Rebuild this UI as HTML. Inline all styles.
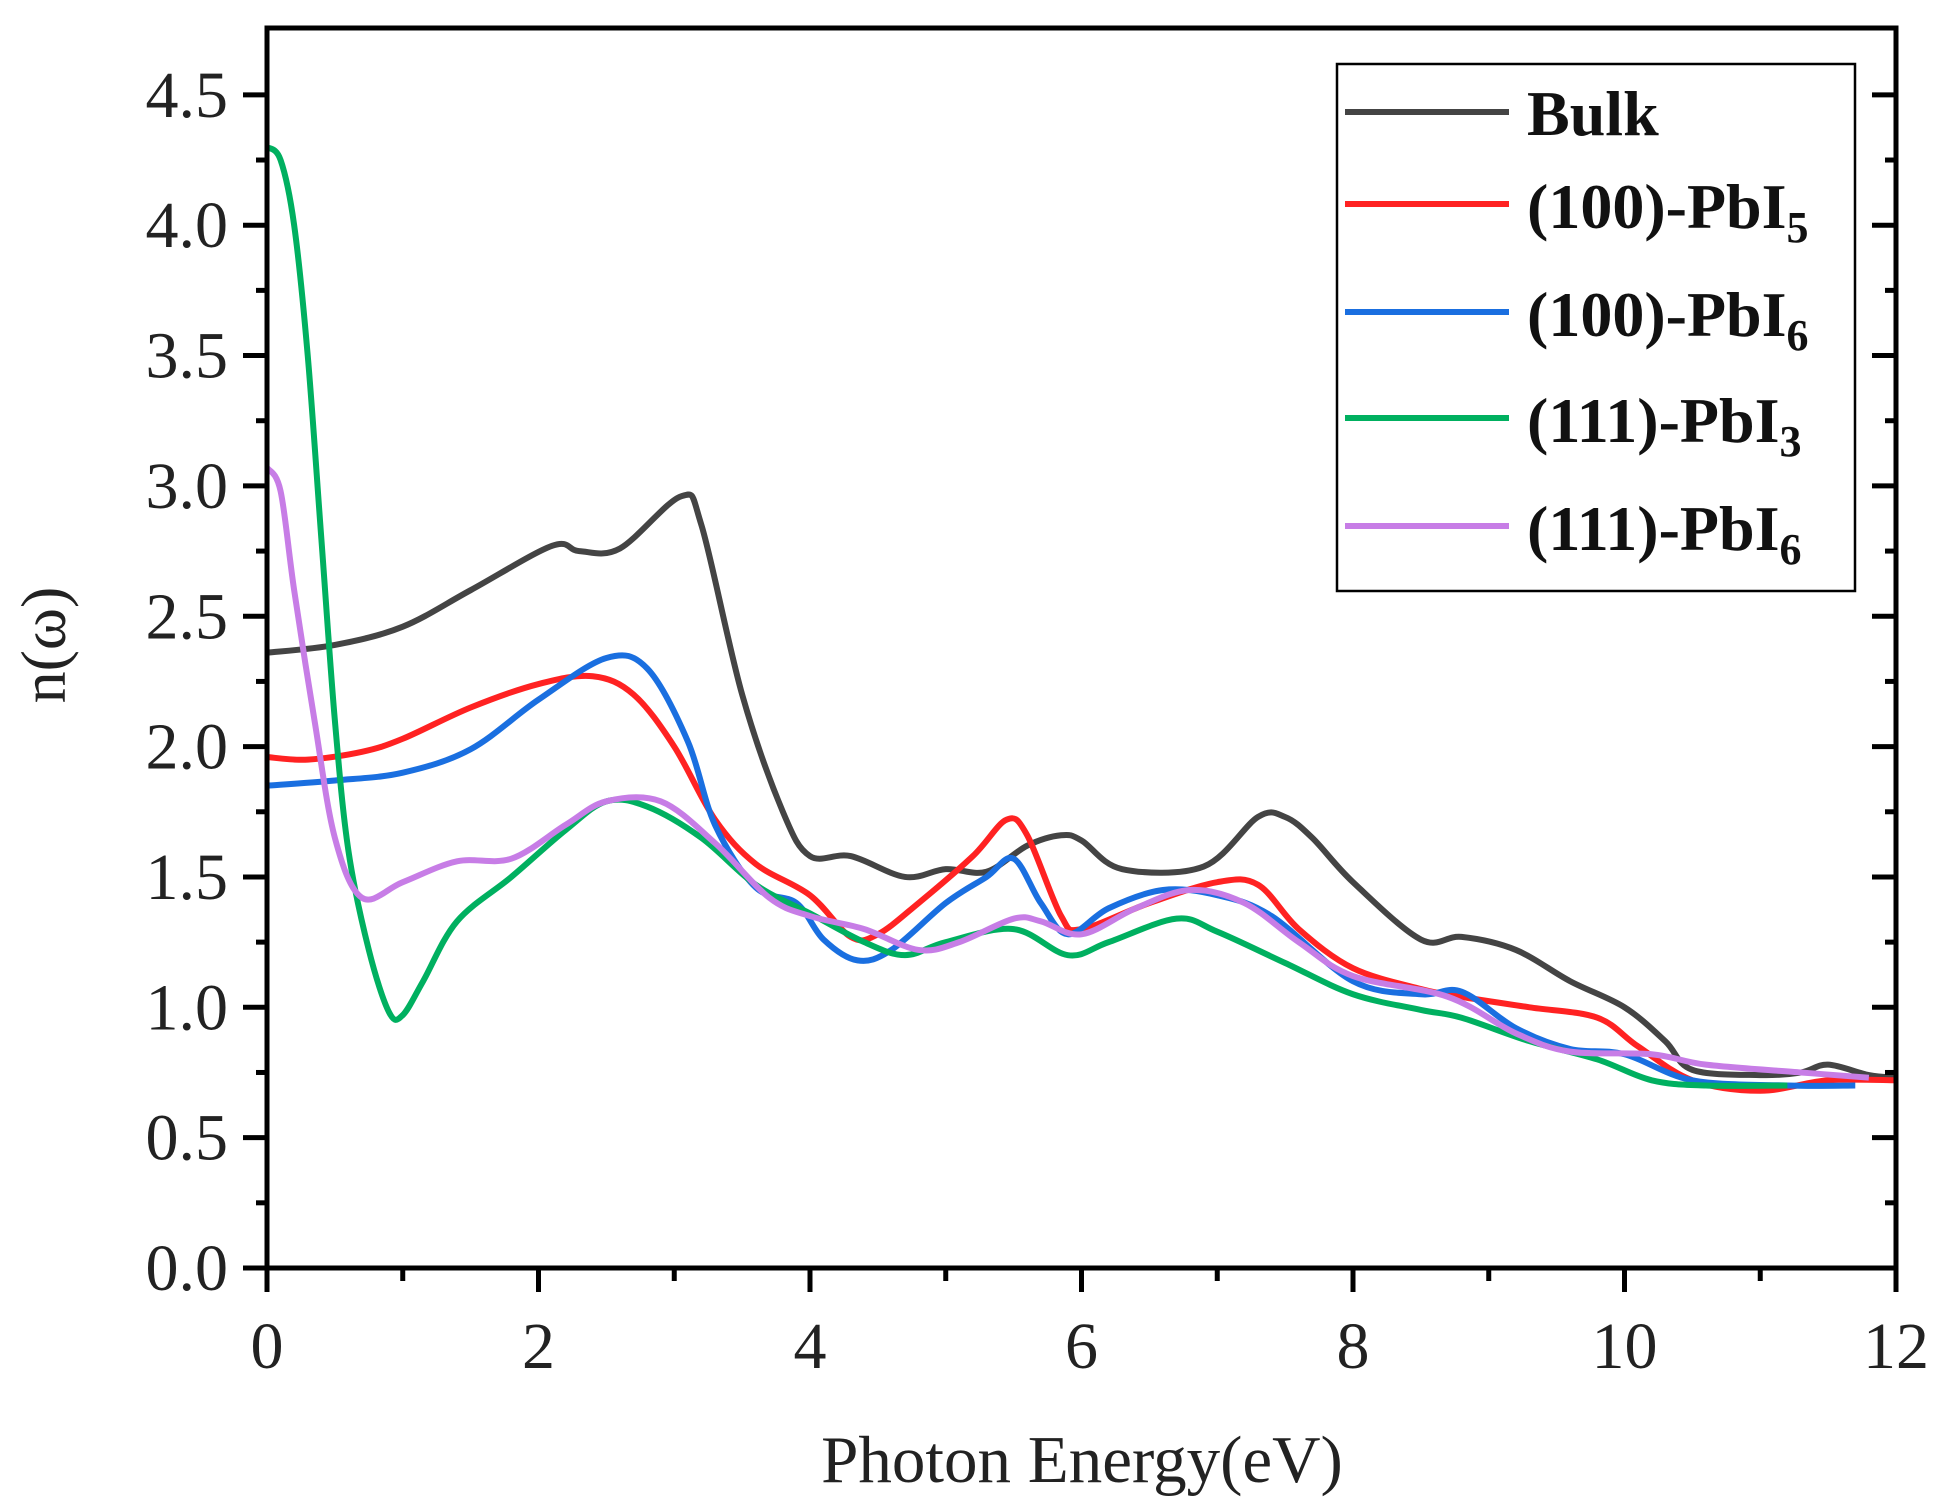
<!DOCTYPE html>
<html><head><meta charset="utf-8"><style>html,body{margin:0;padding:0;background:#fff}</style></head>
<body>
<svg id="s" width="1939" height="1507" xmlns="http://www.w3.org/2000/svg" font-family="Liberation Serif, serif">
<g id="curves" fill="none" stroke-width="6" stroke-linejoin="round"></g>
<g id="axes" stroke="#000" stroke-width="5"></g>
<g id="labels" font-size="66" fill="#222"></g>
<text x="1082" y="1482" font-size="67" text-anchor="middle" fill="#222">Photon Energy(eV)</text>
<text transform="translate(65,645) rotate(-90)" font-size="64" text-anchor="middle" fill="#222">n(ω)</text>
<rect x="1337" y="64" width="518" height="527" fill="#fff" stroke="#000" stroke-width="2.5"/>
<g font-size="64" font-weight="bold" fill="#111">
<line x1="1345" y1="112" x2="1509" y2="112" stroke="#444" stroke-width="6"/><text x="1527" y="135">Bulk</text>
<line x1="1345" y1="204" x2="1509" y2="204" stroke="#f22" stroke-width="6"/><text x="1527" y="228">(100)-PbI<tspan font-size="44" dy="14">5</tspan></text>
<line x1="1345" y1="312" x2="1509" y2="312" stroke="#1a6fe0" stroke-width="6"/><text x="1527" y="336">(100)-PbI<tspan font-size="44" dy="14">6</tspan></text>
<line x1="1345" y1="418" x2="1509" y2="418" stroke="#00b060" stroke-width="6"/><text x="1527" y="442">(111)-PbI<tspan font-size="44" dy="14">3</tspan></text>
<line x1="1345" y1="526" x2="1509" y2="526" stroke="#c77de6" stroke-width="6"/><text x="1527" y="550">(111)-PbI<tspan font-size="44" dy="14">6</tspan></text>
</g>
</svg>
<script>
const X=e=>267+135.75*e, Y=n=>1268-260.7*n;
const data={
"#444":[[0,2.36],[0.5,2.39],[1,2.46],[1.5,2.6],[2.1,2.77],[2.3,2.75],[2.6,2.76],[3.05,2.96],[3.2,2.85],[3.5,2.2],[3.8,1.75],[4.0,1.58],[4.3,1.58],[4.7,1.5],[5.0,1.53],[5.3,1.52],[5.6,1.62],[5.85,1.66],[6.0,1.64],[6.3,1.53],[6.9,1.54],[7.3,1.73],[7.5,1.73],[7.7,1.65],[8.0,1.48],[8.5,1.26],[8.8,1.27],[9.2,1.22],[9.6,1.1],[10.0,1.0],[10.3,0.87],[10.5,0.76],[11,0.74],[11.3,0.75],[11.5,0.78],[11.8,0.74],[12,0.73]],
"#f22":[[0,1.96],[0.3,1.95],[0.7,1.98],[1.0,2.03],[1.5,2.15],[2.0,2.24],[2.4,2.27],[2.7,2.2],[3.0,2.0],[3.3,1.72],[3.6,1.55],[4.0,1.43],[4.3,1.27],[4.5,1.28],[4.8,1.4],[5.2,1.58],[5.45,1.72],[5.6,1.66],[5.85,1.35],[6.0,1.3],[6.5,1.4],[7.0,1.48],[7.3,1.47],[7.6,1.3],[8.0,1.15],[8.5,1.07],[8.8,1.04],[9.3,1.0],[9.8,0.96],[10.1,0.85],[10.5,0.72],[11,0.68],[11.5,0.72],[12,0.72]],
"#1a6fe0":[[0,1.85],[0.5,1.87],[1,1.9],[1.5,1.99],[2.0,2.18],[2.5,2.34],[2.8,2.3],[3.1,2.02],[3.3,1.7],[3.6,1.46],[3.9,1.4],[4.1,1.26],[4.35,1.18],[4.6,1.22],[5.0,1.4],[5.3,1.5],[5.5,1.57],[5.7,1.4],[5.9,1.28],[6.2,1.38],[6.6,1.45],[7.0,1.43],[7.4,1.35],[8.0,1.1],[8.5,1.05],[8.8,1.06],[9.2,0.92],[9.6,0.84],[10,0.82],[10.5,0.72],[11.2,0.7],[11.7,0.7]],
"#00b060":[[0,4.3],[0.1,4.25],[0.2,4.0],[0.3,3.5],[0.4,2.8],[0.5,2.1],[0.6,1.6],[0.75,1.22],[0.9,0.98],[1.0,0.97],[1.15,1.1],[1.4,1.33],[1.8,1.5],[2.2,1.68],[2.5,1.79],[2.8,1.77],[3.2,1.65],[3.6,1.47],[4.0,1.36],[4.4,1.25],[4.7,1.2],[5.0,1.25],[5.5,1.3],[5.9,1.2],[6.2,1.25],[6.7,1.34],[7.0,1.29],[7.5,1.17],[8.0,1.05],[8.5,0.99],[8.8,0.96],[9.3,0.87],[9.8,0.8],[10.2,0.72],[10.6,0.7],[11.2,0.7]],
"#c77de6":[[0,3.07],[0.1,2.98],[0.2,2.6],[0.35,2.1],[0.5,1.65],[0.7,1.42],[1.0,1.48],[1.4,1.56],[1.8,1.57],[2.2,1.7],[2.5,1.79],[2.9,1.79],[3.3,1.63],[3.7,1.42],[4.0,1.35],[4.4,1.3],[4.8,1.22],[5.1,1.25],[5.5,1.34],[5.7,1.33],[6.0,1.28],[6.4,1.38],[6.8,1.45],[7.2,1.4],[7.6,1.25],[8.0,1.12],[8.7,1.04],[9.2,0.9],[9.6,0.83],[10.2,0.82],[10.6,0.78],[11.3,0.75],[11.8,0.73]]};
const NS="http://www.w3.org/2000/svg";
function el(p,t,a){const e=document.createElementNS(NS,t);for(const k in a)e.setAttribute(k,a[k]);p.appendChild(e);return e;}
const cg=document.getElementById('curves');
for(const c in data){const p=data[c].map(q=>[X(q[0]),Y(q[1])]);let d=`M${p[0][0]},${p[0][1]}`;
for(let i=0;i<p.length-1;i++){const p0=p[i-1]||p[i],p1=p[i],p2=p[i+1],p3=p[i+2]||p2;
d+=` C${p1[0]+(p2[0]-p0[0])/6},${p1[1]+(p2[1]-p0[1])/6} ${p2[0]-(p3[0]-p1[0])/6},${p2[1]-(p3[1]-p1[1])/6} ${p2[0]},${p2[1]}`;}
el(cg,'path',{d,stroke:c});}
const ag=document.getElementById('axes'),lg=document.getElementById('labels');
el(ag,'rect',{x:267,y:28,width:1629,height:1240,fill:'none'});
for(let i=0;i<=12;i++){const x=X(i),maj=i%2==0;el(ag,'line',{x1:x,y1:1268,x2:x,y2:1268+(maj?24:13)});
if(maj){const t=el(lg,'text',{x:x,y:1368,'text-anchor':'middle'});t.textContent=i;}}
for(let i=0;i<=9;i++){const y=Y(i*0.5);el(ag,'line',{x1:267,y1:y,x2:243,y2:y});el(ag,'line',{x1:1896,y1:y,x2:1872,y2:y});
const t=el(lg,'text',{x:228,y:y+22,'text-anchor':'end'});t.textContent=(i*0.5).toFixed(1);
const ym=Y(i*0.5+0.25);if(ym>30){el(ag,'line',{x1:267,y1:ym,x2:256,y2:ym});el(ag,'line',{x1:1896,y1:ym,x2:1885,y2:ym});}}
</script>
</body></html>
